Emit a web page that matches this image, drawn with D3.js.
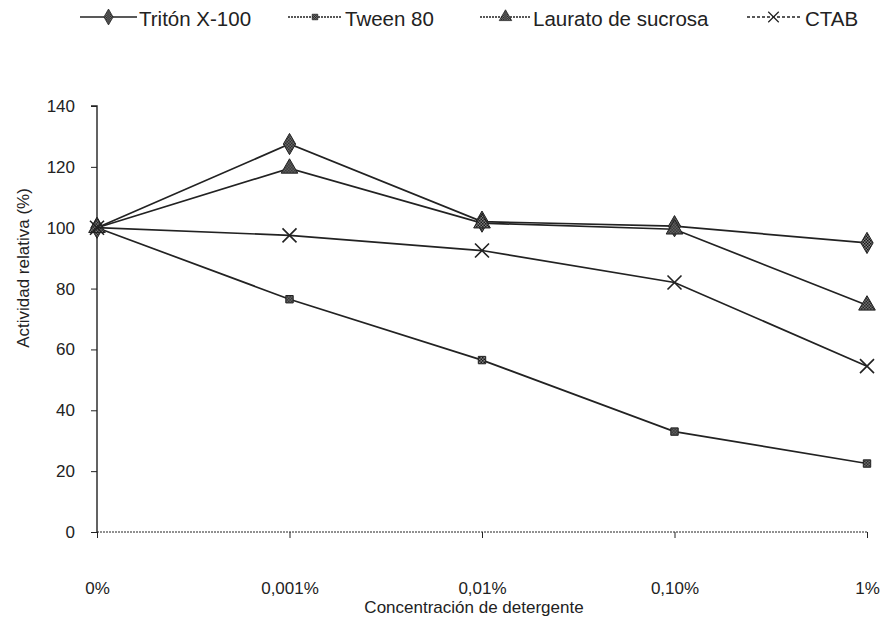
<!DOCTYPE html>
<html>
<head>
<meta charset="utf-8">
<script src="https://cdn.jsdelivr.net/npm/d3@7"></script>
<style>
  body { margin: 0; background: #fff; }
  text { font-family: "Liberation Sans", Arial, sans-serif; fill: #222; }
</style>
</head>
<body>
<svg id="chart" width="883" height="630"></svg>
<script>
// categories on the x axis
var categories = ["0%", "0,001%", "0,01%", "0,10%", "1%"];

// relative activity (%) per detergent
var triton = [100, 127.5, 102, 100.5, 95];
var tween = [100, 76.5, 56.5, 33, 22.5];
var laurato = [100, 119.5, 101.5, 99.5, 74.5];
var ctab = [100, 97.5, 92.5, 82, 54.5];

var yTicks = [0, 20, 40, 60, 80, 100, 120, 140];

var series = [
    { name: "Tritón X-100", values: triton, symbol: d3.symbolDiamond, size: 130 },
    { name: "Tween 80", values: tween, symbol: d3.symbolSquare, size: 55 },
    { name: "Laurato de sucrosa", values: laurato, symbol: d3.symbolTriangle, size: 120 },
    { name: "CTAB", values: ctab, symbol: d3.symbolCross, size: 0 }
];

var svg = d3.select("#chart");
var ink = "#222";

// checkered fill, like the printed markers
var pat = svg.append("defs").append("pattern")
    .attr("id", "hatch")
    .attr("width", 3).attr("height", 3)
    .attr("patternUnits", "userSpaceOnUse");
pat.append("rect").attr("width", 3).attr("height", 3).attr("fill", "#888");
pat.append("rect").attr("width", 1.5).attr("height", 1.5).attr("fill", "#111");
pat.append("rect").attr("x", 1.5).attr("y", 1.5).attr("width", 1.5).attr("height", 1.5).attr("fill", "#111");

var margin = { left: 97, right: 16, top: 106, bottom: 98 };
var width = 883 - margin.left - margin.right;
var height = 630 - margin.top - margin.bottom;

var x = d3.scalePoint().domain(categories).range([0, width]);
var y = d3.scaleLinear().domain([0, 140]).range([height, 0]);

var g = svg.append("g").attr("transform", "translate(" + margin.left + "," + margin.top + ")");

// axes
var yAxis = g.append("g")
    .call(d3.axisLeft(y).tickValues(yTicks).tickSize(6).tickPadding(16));
yAxis.select(".domain").attr("stroke", ink).attr("stroke-width", 1.4).attr("d", "M-6,0H0V" + height);
yAxis.selectAll("line").attr("stroke", ink);
yAxis.selectAll("text").attr("font-size", 17).style("fill", ink);

var xAxis = g.append("g")
    .attr("transform", "translate(0," + height + ")")
    .call(d3.axisBottom(x).tickSize(6).tickPadding(44));
xAxis.select(".domain").attr("stroke", ink).attr("stroke-dasharray", "2,1").attr("d", "M0,0H" + width);
xAxis.selectAll("line").attr("stroke", ink);
xAxis.selectAll("text").attr("font-size", 17).style("fill", ink);

// axis titles
svg.append("text")
    .attr("x", 474)
    .attr("y", 613)
    .attr("text-anchor", "middle")
    .attr("font-size", 17)
    .text("Concentración de detergente");

svg.append("text")
    .attr("transform", "translate(29,268) rotate(-90)")
    .attr("text-anchor", "middle")
    .attr("font-size", 17)
    .text("Actividad relativa (%)");

var line = d3.line()
    .x(function(d, i) { return x(categories[i]); })
    .y(function(d) { return y(d); });

function drawMarker(sel, s) {
    if (s.name === "CTAB") {
        sel.append("path")
            .attr("d", "M-7,-7L7,7M-7,7L7,-7")
            .attr("stroke", ink)
            .attr("stroke-width", 1.6)
            .attr("fill", "none");
    } else {
        sel.append("path")
            .attr("d", d3.symbol().type(s.symbol).size(s.size)())
            .attr("fill", "url(#hatch)")
            .attr("stroke", ink)
            .attr("stroke-width", 1);
    }
}

series.forEach(function(s) {
    g.append("path")
        .datum(s.values)
        .attr("fill", "none")
        .attr("stroke", ink)
        .attr("stroke-width", 1.7)
        .attr("d", line);

    s.values.forEach(function(v, i) {
        var m = g.append("g")
            .attr("transform", "translate(" + x(categories[i]) + "," + y(v) + ")");
        drawMarker(m, s);
    });
});

// legend: line start, line end, text start
var legendPos = [[80, 137, 139], [288, 342, 345], [480, 531, 533], [747, 800, 805]];
var legendDash = [null, "2,1", "2,1", "3,2"];
series.forEach(function(s, i) {
    var p = legendPos[i];
    var lg = svg.append("g").attr("transform", "translate(0,17)");
    lg.append("line")
        .attr("x1", p[0]).attr("x2", p[1])
        .attr("y1", 0).attr("y2", 0)
        .attr("stroke", ink)
        .attr("stroke-width", 1.4)
        .attr("stroke-dasharray", legendDash[i]);
    var m = lg.append("g").attr("transform", "translate(" + ((p[0] + p[1]) / 2) + ",0) scale(0.75)");
    drawMarker(m, s);
    lg.append("text")
        .attr("x", p[2])
        .attr("y", 9)
        .attr("font-size", 20.5)
        .text(s.name);
});
</script>
</body>
</html>
